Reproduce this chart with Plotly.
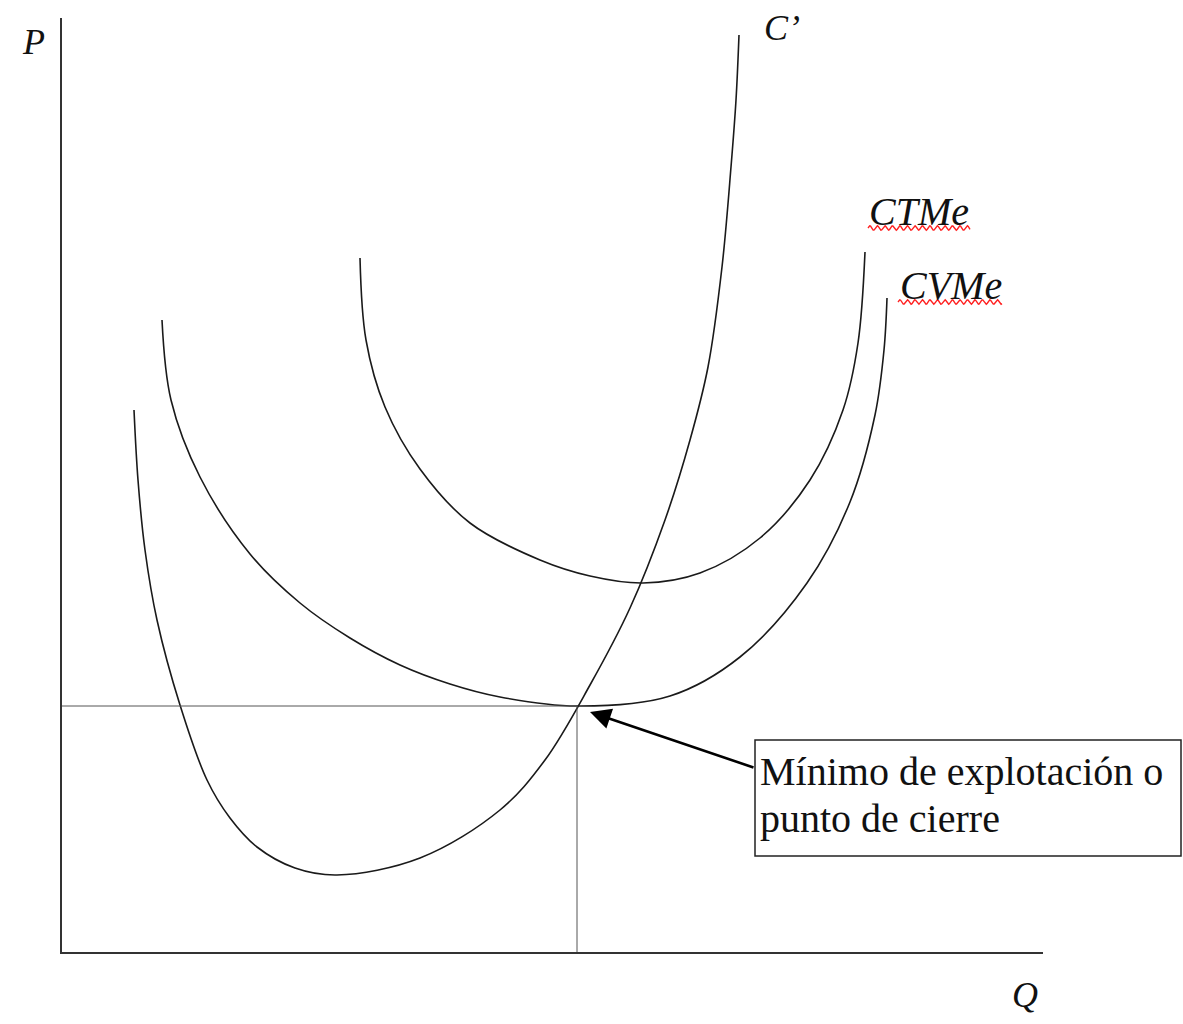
import numpy as np
import plotly.graph_objects as go

# ---- data (Q, P units; axis origin at 0,0) ----
cmg_q = [7.3, 7.7, 8.4, 9.6, 11.9, 14.6, 16.9, 19.6, 23.4, 27.6, 35.9, 43.9, 48.4, 52.9, 56.9, 60.4,
         62.9, 64.7, 66.1, 67.0, 67.5, 67.8]
cmg_p = [54.3, 47.3, 40.3, 33.3, 24.8, 17.3, 13.5, 10.6, 8.5, 7.8, 9.5, 14.3, 19.3, 26.8, 34.5, 43.3,
         51.3, 58.6, 68.6, 78.6, 85.3, 91.8]

cvme_q = [10.1, 11.0, 13.9, 18.9, 23.9, 28.9, 33.9, 38.9, 43.9, 51.6, 60.9, 67.9, 74.6, 78.9, 81.4, 82.3, 82.6]
cvme_p = [63.3, 55.3, 47.6, 39.9, 35.0, 31.5, 28.8, 26.9, 25.6, 24.7, 25.7, 29.6, 37.0, 45.1, 53.8, 60.3, 65.5]

ctme_q = [29.9, 30.5, 32.4, 35.9, 40.9, 47.9, 52.9, 58.2, 63.9, 69.9, 74.9, 78.2, 79.7, 80.4]
ctme_p = [69.5, 61.3, 54.6, 48.4, 43.0, 39.3, 37.7, 37.0, 38.0, 41.5, 47.3, 54.3, 61.0, 70.1]

shutdown_q = 51.6
shutdown_p = 24.7

q_axis_max = 98.2
p_axis_max = 93.5

labels = ["C’", "CTMe", "CVMe"]
box_lines = ["Mínimo de explotación o", "punto de cierre"]

FONT = "Liberation Serif, Times New Roman, serif"

fig = go.Figure()

curve_line = dict(color="#1a1a1a", width=1.6, shape="spline", smoothing=1.0)
for qs, ps in [(cmg_q, cmg_p), (cvme_q, cvme_p), (ctme_q, ctme_p)]:
    fig.add_trace(go.Scatter(x=qs, y=ps, mode="lines", line=curve_line, hoverinfo="skip"))

# guide lines to shutdown point
fig.add_trace(go.Scatter(x=[0, shutdown_q, shutdown_q], y=[shutdown_p, shutdown_p, 0],
                         mode="lines", line=dict(color="#555555", width=1), hoverinfo="skip"))

# axes
fig.add_trace(go.Scatter(x=[0, 0, q_axis_max], y=[p_axis_max, 0, 0], mode="lines",
                         line=dict(color="#333333", width=2), hoverinfo="skip"))

# spell-check style wavy underlines (decoration)
def wavy(x0, x1, y):
    xs = np.linspace(x0, x1, 120)
    ys = y + 0.22 * np.sin((xs - x0) / 0.75 * 2 * np.pi)
    return xs, ys

for (x0, x1, y) in [(80.7, 90.9, 72.5), (83.7, 94.1, 65.1)]:
    xs, ys = wavy(x0, x1, y)
    fig.add_trace(go.Scatter(x=xs, y=ys, mode="lines", line=dict(color="#ff2020", width=1.4),
                             hoverinfo="skip"))

# box
fig.add_shape(type="rect", x0=69.4, x1=112.0, y0=9.7, y1=21.3,
              line=dict(color="#222222", width=1.5), fillcolor="white")
for txt, yy in zip(box_lines, [18.15, 13.45]):
    fig.add_annotation(x=69.7, y=yy, text=txt, showarrow=False, xanchor="left", yanchor="middle",
                       align="left", font=dict(family=FONT, size=40, color="#111111"))

# arrow
fig.add_annotation(x=52.9, y=24.1, ax=69.4, ay=18.5, axref="x", ayref="y", xref="x", yref="y",
                   text="", showarrow=True, arrowhead=2, arrowsize=1.6, arrowwidth=2.6,
                   arrowcolor="#000000")

# labels
lab_font = dict(family=FONT, size=36, color="#111111")
lab_font2 = dict(family=FONT, size=40, color="#111111")
fig.add_annotation(x=-2.8, y=91.1, text="<i>P</i>", showarrow=False, font=lab_font)
fig.add_annotation(x=96.4, y=-4.2, text="<i>Q</i>", showarrow=False, font=lab_font)
fig.add_annotation(x=72.1, y=92.5, text="<i>" + labels[0] + "</i>", showarrow=False, font=lab_font)
fig.add_annotation(x=85.8, y=74.2, text="<i>" + labels[1] + "</i>", showarrow=False, font=lab_font2)
fig.add_annotation(x=89.0, y=66.8, text="<i>" + labels[2] + "</i>", showarrow=False, font=lab_font2)

fig.update_layout(
    width=1183, height=1024, margin=dict(l=0, r=0, t=0, b=0),
    paper_bgcolor="white", plot_bgcolor="white", showlegend=False,
    xaxis=dict(range=[-6.1, 112.2], visible=False, fixedrange=True),
    yaxis=dict(range=[-7.1, 95.3], visible=False, fixedrange=True),
)

fig.write_html("out.html", config={"displayModeBar": False},
               post_script="document.body.style.margin='0';document.body.style.overflow='hidden';")
